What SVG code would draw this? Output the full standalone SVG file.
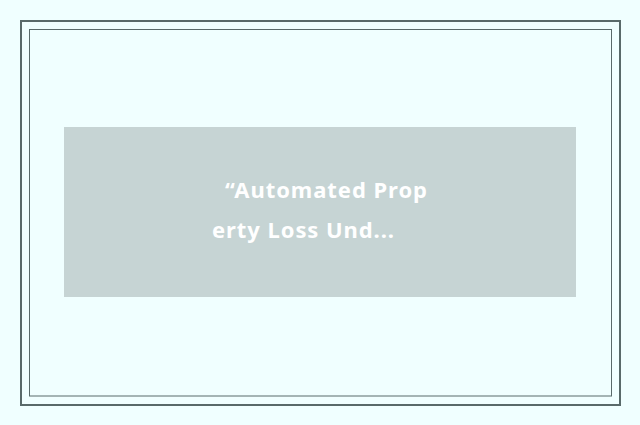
<svg xmlns="http://www.w3.org/2000/svg" width="640" height="425" viewBox="0 0 640 425">
<style>
.frame{fill:none;stroke:#596a6a}
.lbl{font-family:"Noto Sans","Open Sans","Liberation Sans",sans-serif;font-size:22px;font-weight:700;fill:#ffffff}
</style>
<rect x="0" y="0" width="640" height="425" fill="#f0ffff"/>
<rect class="frame" x="21" y="21" width="599" height="384" stroke-width="2"/>
<rect class="frame" x="29.5" y="29.5" width="582" height="366.5" stroke-width="1"/>
<g id="node-1">
<rect x="64" y="127" width="512" height="170" fill="#c6d4d4"/>
<text class="lbl" x="225" y="198" textLength="202" lengthAdjust="spacing">“Automated Prop</text>
<text class="lbl" x="212" y="238" textLength="182" lengthAdjust="spacing">erty Loss Und...</text>
</g>
<g id="connectors"/>
</svg>
